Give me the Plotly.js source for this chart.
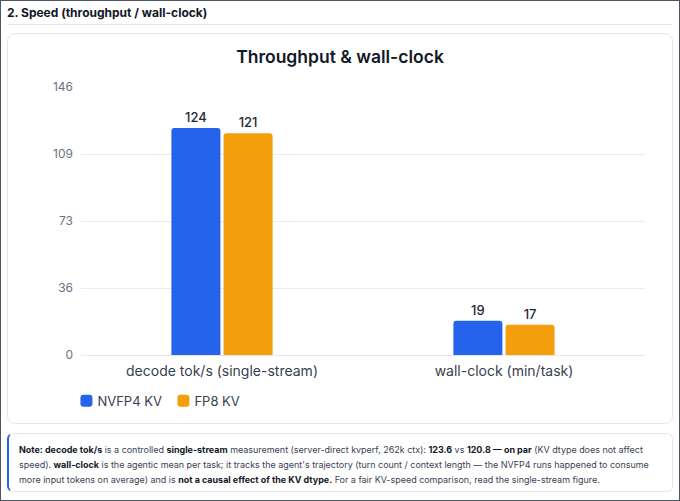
<!DOCTYPE html>
<html>
<head>
<meta charset="utf-8">
<script src="https://cdn.plot.ly/plotly-3.0.1.min.js"></script>
<style>
  html, body { margin: 0; padding: 0; background: #fff; }
  body { font-family: Inter, "Noto Sans", sans-serif; }
  #frame { position: relative; width: 680px; height: 501px; box-sizing: border-box; border: 1px solid #4b5563; overflow: hidden; background: #fff; }
  #hdr { position: absolute; left: 6px; top: 3px; font-size: 12px; font-weight: 700; color: #111827; line-height: 17px; }
  #sep { position: absolute; left: 6px; right: 7px; top: 23px; height: 1px; background: #e5e7eb; }
  #card { position: absolute; left: 6px; top: 32px; width: 666px; height: 391px; box-sizing: border-box; border: 1px solid #e5e7eb; border-radius: 8px; }
  #chart { position: absolute; left: 7px; top: 33px; width: 664px; height: 389px; }
  #note { position: absolute; left: 6px; top: 432px; width: 666px; height: 59px; box-sizing: border-box; border: 1px solid #e5e7eb; border-left: 2px solid #2563eb; border-radius: 6px; padding: 8px 0 0 10px; font-size: 10px; line-height: 15px; color: #374151; white-space: nowrap; }
  #note span.l { display: inline-block; }
  #note b { color: #111827; font-weight: 700; }
</style>
</head>
<body>
<div id="frame">
  <div id="hdr">2. Speed (throughput / wall-clock)</div>
  <div id="sep"></div>
  <div id="card"></div>
  <div id="chart"></div>
  <div id="note"><span class="l"><b>Note: decode tok/s</b> is a controlled <b>single-stream</b> measurement (server-direct kvperf, 262k ctx): <b>123.6</b> vs <b>120.8 — on par</b> (KV dtype does not affect</span><br><span class="l">speed). <b>wall-clock</b> is the agentic mean per task; it tracks the agent's trajectory (turn count / context length — the NVFP4 runs happened to consume</span><br><span class="l">more input tokens on average) and is <b>not a causal effect of the KV dtype.</b> For a fair KV-speed comparison, read the single-stream figure.</span></div>
</div>
<script>
const categories = ["decode tok/s (single-stream)", "wall-clock (min/task)"];
const nvfp4Values = [123.6, 18.6];
const fp8Values = [120.8, 16.5];
const seriesNames = ["NVFP4 KV", "FP8 KV"];
const yTickVals = [0, 36.5, 73, 109.5, 146];
const yTickText = ["0", "36", "73", "109", "146"];

// fit note text lines into the reference width
(function fitNote() {
  const note = document.getElementById("note");
  const lines = note.querySelectorAll("span.l");
  let maxW = 0;
  lines.forEach(s => { maxW = Math.max(maxW, s.getBoundingClientRect().width); });
  const target = 630;
  if (maxW > 0) note.style.fontSize = (10 * target / maxW).toFixed(2) + "px";
})();

const textFont = { family: "Inter, 'Noto Sans', sans-serif", size: 13, color: "#1f2937", weight: 500 };

const traces = [
  { type: "bar", name: seriesNames[0], x: categories, y: nvfp4Values,
    marker: { color: "#2563eb", cornerradius: 3 },
    texttemplate: "%{y:.0f}", textposition: "outside", textfont: textFont, cliponaxis: false,
    hoverinfo: "none" },
  { type: "bar", name: seriesNames[1], x: categories, y: fp8Values,
    marker: { color: "#f59e0b", cornerradius: 3 },
    texttemplate: "%{y:.0f}", textposition: "outside", textfont: textFont, cliponaxis: false,
    hoverinfo: "none" }
];

const layout = {
  width: 664, height: 389,
  margin: { l: 73, r: 27, t: 53, b: 68 },
  paper_bgcolor: "rgba(0,0,0,0)", plot_bgcolor: "rgba(0,0,0,0)",
  font: { family: "Inter, 'Noto Sans', sans-serif", color: "#374151" },
  title: { text: "Throughput & wall-clock", x: 0.5, xanchor: "center", y: 1, yref: "container", yanchor: "top", pad: { t: 17 },
           font: { size: 17.5, color: "#111827", weight: 600 } },
  barmode: "group", bargap: 0.63, bargroupgap: 0.06,
  xaxis: { type: "category", showgrid: false, zeroline: false, showline: false, ticks: "",
           ticklabelstandoff: 6,
           tickfont: { size: 14, color: "#374151" }, fixedrange: true },
  yaxis: { range: [0, 146], tickvals: yTickVals, ticktext: yTickText, showgrid: true, gridcolor: "#e9ebef", gridwidth: 1,
           zeroline: true, zerolinecolor: "#e5e7eb", zerolinewidth: 1, showline: false, ticks: "",
           ticklabelstandoff: 7,
           tickfont: { size: 12, color: "#6b7280" }, fixedrange: true },
  legend: { orientation: "h", x: 0.088, xref: "container", xanchor: "left", y: 0.057, yref: "container", yanchor: "middle",
            font: { size: 13, color: "#374151" }, itemwidth: 30, entrywidth: 52, entrywidthmode: "pixels" },
  showlegend: true
};

Plotly.newPlot("chart", traces, layout, { displayModeBar: false, staticPlot: true }).then(gd => {
  // pull legend labels closer to their swatches, as in the reference
  gd.querySelectorAll(".legend .legendtext").forEach(t => t.setAttribute("x", "31"));
});
</script>
</body>
</html>
